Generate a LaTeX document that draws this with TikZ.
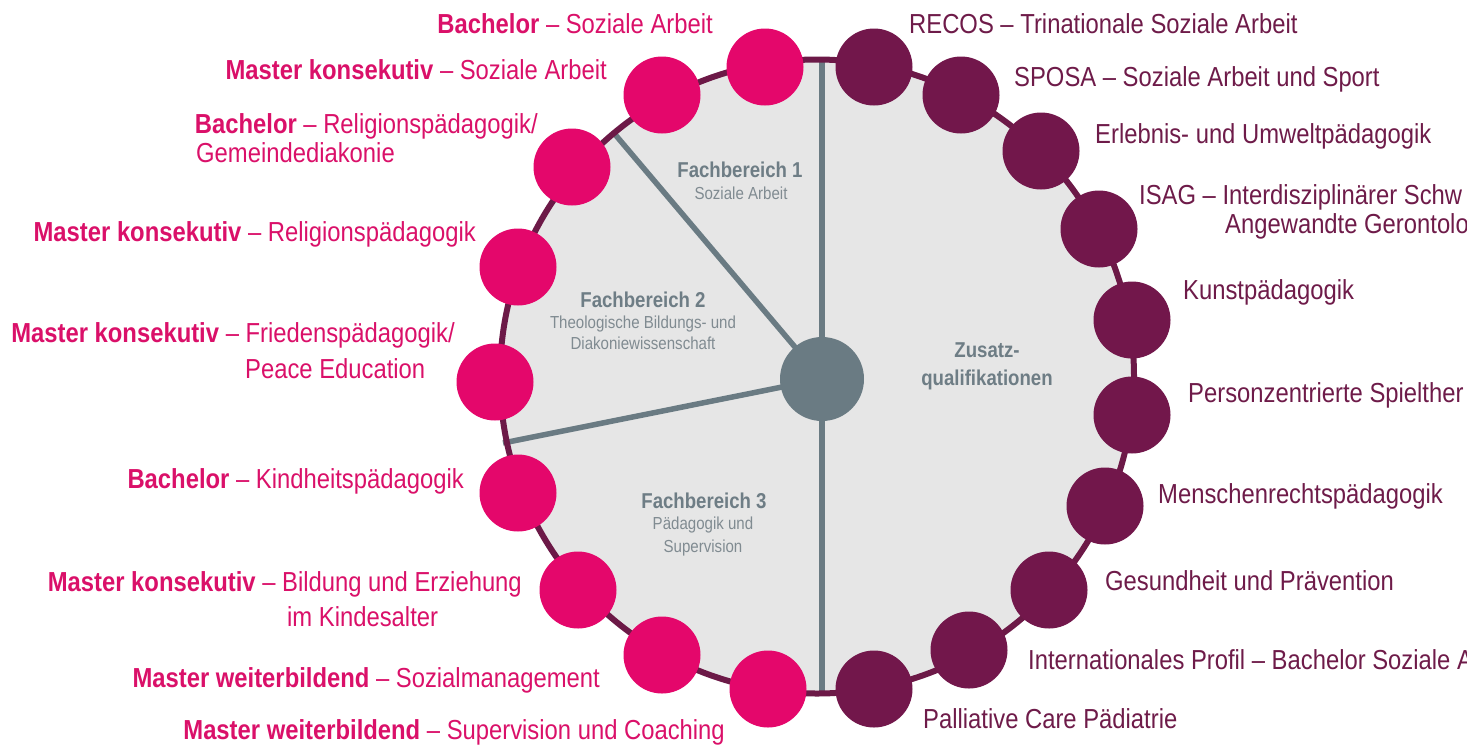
\documentclass[tikz,border=0pt]{standalone}
\usepackage{fontspec}
\setmainfont{Liberation Sans}[FakeStretch=0.866]
\definecolor{pinkdot}{HTML}{E4076B}
\definecolor{pinktxt}{HTML}{DA1069}
\definecolor{purpdot}{HTML}{72174B}
\definecolor{purptxt}{HTML}{6E1B49}
\definecolor{ringc}{HTML}{6C1947}
\definecolor{fillg}{HTML}{E6E6E6}
\definecolor{spokeg}{HTML}{6A7B83}
\definecolor{titleg}{HTML}{6E7D85}
\definecolor{subg}{HTML}{808B91}
\begin{document}
\begin{tikzpicture}[x=1pt,y=-1pt,
 dotp/.style={circle,fill=pinkdot,minimum size=77pt,inner sep=0pt},
 dotq/.style={circle,fill=purpdot,minimum size=77pt,inner sep=0pt},
 hubdot/.style={circle,fill=spokeg,minimum size=84pt,inner sep=0pt},
 lbl/.style={inner sep=0pt,font=\fontsize{27.5}{33}\selectfont},
 llbl/.style={lbl,text=pinktxt,anchor=base east},
 llbltwo/.style={lbl,text=pinktxt,anchor=base west},
 rlbl/.style={lbl,text=purptxt,anchor=base west},
 ttl/.style={inner sep=0pt,anchor=base,text=titleg,font=\fontsize{21.5}{25}\selectfont\bfseries},
 subtxt/.style={inner sep=0pt,anchor=base,text=subg,font=\fontsize{17.4}{21}\selectfont},
 spoke/.style={draw=spokeg,line width=5.5pt},
 ringline/.style={draw=ringc,line width=6pt}]
\useasboundingbox (0,0) rectangle (1467,748);
\clip (0,0) rectangle (1467,748);
% background disc
\fill[fillg] (817,376.5) circle[radius=317pt];
% spokes
\coordinate (cc) at (822,379);
\coordinate (sTop) at (822,59.5);
\coordinate (sBot) at (822,693.5);
\coordinate (sA) at (613,132);
\coordinate (sB) at (503,443);
\draw[spoke] (sTop) -- (sBot);
\draw[spoke] (cc) -- (sA);
\draw[spoke] (cc) -- (sB);
% ring
\draw[ringline] (817,376.5) circle[radius=317pt];
% hub
\node[hubdot] (c) at (cc) {};
% pink dots
\node[dotp] (p1) at (765,67) {};
\node[dotp] (p2) at (662,95) {};
\node[dotp] (p3) at (572,167) {};
\node[dotp] (p4) at (518,267) {};
\node[dotp] (p5) at (495,382) {};
\node[dotp] (p6) at (518,493) {};
\node[dotp] (p7) at (578,590) {};
\node[dotp] (p8) at (662,655) {};
\node[dotp] (p9) at (768,689) {};
% purple dots
\node[dotq] (q1) at (874,67) {};
\node[dotq] (q2) at (961,95) {};
\node[dotq] (q3) at (1041,151) {};
\node[dotq] (q4) at (1099,229) {};
\node[dotq] (q5) at (1132,320) {};
\node[dotq] (q6) at (1132,415) {};
\node[dotq] (q7) at (1105,506) {};
\node[dotq] (q8) at (1049,590) {};
\node[dotq] (q9) at (969,650) {};
\node[dotq] (q10) at (874,689) {};
% left labels
\node[llbl] (l1) at (713,33) {{\bfseries Bachelor} -- Soziale Arbeit};
\node[llbl] (l2) at (607,79) {{\bfseries Master konsekutiv} -- Soziale Arbeit};
\node[llbl] (l3) at (538,133) {{\bfseries Bachelor} -- Religionspädagogik/};
\node[llbltwo] (l3b) at (196,162) {Gemeindediakonie};
\node[llbl] (l4) at (476,241) {{\bfseries Master konsekutiv} -- Religionspädagogik};
\node[llbl] (l5) at (455,342) {{\bfseries Master konsekutiv} -- Friedenspädagogik/};
\node[llbltwo] (l5b) at (245,378) {Peace Education};
\node[llbl] (l6) at (464,488) {{\bfseries Bachelor} -- Kindheitspädagogik};
\node[llbl] (l7) at (522,591) {{\bfseries Master konsekutiv} -- Bildung und Erziehung};
\node[llbltwo] (l7b) at (287,626) {im Kindesalter};
\node[llbl] (l8) at (600,687) {{\bfseries Master weiterbildend} -- Sozialmanagement};
\node[llbl] (l9) at (725,739) {{\bfseries Master weiterbildend} -- Supervision und Coaching};
% right labels
\node[rlbl] (r1) at (909,33) {RECOS -- Trinationale Soziale Arbeit};
\node[rlbl] (r2) at (1014,86) {SPOSA -- Soziale Arbeit und Sport};
\node[rlbl] (r3) at (1095,143) {Erlebnis- und Umweltpädagogik};
\node[rlbl] (r4) at (1139,204) {ISAG -- Interdisziplinärer Schw};
\node[rlbl] (r4b) at (1225,233) {Angewandte Gerontolo};
\node[rlbl] (r5) at (1183,299) {Kunstpädagogik};
\node[rlbl] (r6) at (1188,402) {Personzentrierte Spielther};
\node[rlbl] (r7) at (1158,503) {Menschenrechtspädagogik};
\node[rlbl] (r8) at (1105,590) {Gesundheit und Prävention};
\node[rlbl] (r9) at (1028,669) {Internationales Profil -- Bachelor Soziale A};
\node[rlbl] (r10) at (923,728) {Palliative Care Pädiatrie};
% inner titles
\node[ttl] (f1) at (740,177) {Fachbereich 1};
\node[subtxt] (f1a) at (741,199) {Soziale Arbeit};
\node[ttl] (f2) at (643,307) {Fachbereich 2};
\node[subtxt] (f2a) at (643,328) {Theologische Bildungs- und};
\node[subtxt] (f2b) at (643,349) {Diakoniewissenschaft};
\node[ttl] (f3) at (704,508) {Fachbereich 3};
\node[subtxt] (f3a) at (703,529) {Pädagogik und};
\node[subtxt] (f3b) at (703,552) {Supervision};
\node[ttl] (z1) at (987,357) {Zusatz-};
\node[ttl] (z2) at (987,385) {qualifikationen};
\end{tikzpicture}
\end{document}
